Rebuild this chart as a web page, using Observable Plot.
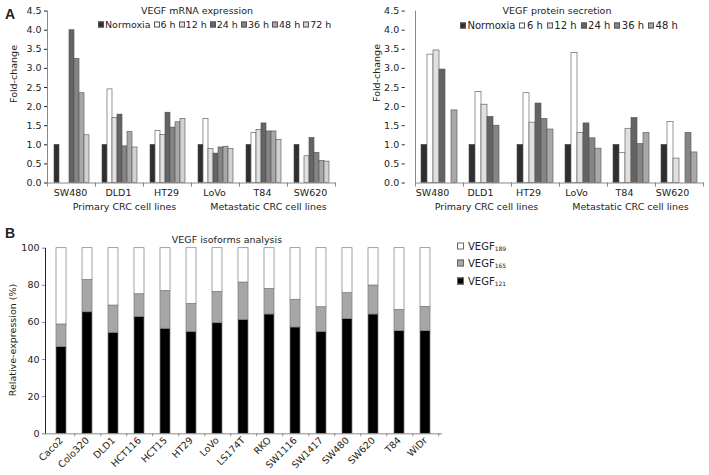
<!DOCTYPE html>
<html><head><meta charset="utf-8">
<script src="https://cdn.jsdelivr.net/npm/d3@7"></script>
<script src="https://cdn.jsdelivr.net/npm/@observablehq/plot@0.6"></script>
<style>
body{margin:0;background:#fff;}
#wrap{position:relative;width:709px;height:475px;font-family:"DejaVu Sans",sans-serif;color:#222;overflow:hidden;background:#fff}
.plot{position:absolute}
.t{position:absolute;font-size:9.5px;white-space:nowrap;transform:translate(-50%,-50%)}
.rot{transform:translate(-50%,-50%) rotate(-90deg)}
.pl{position:absolute;font-family:"Liberation Sans",sans-serif;font-weight:bold;font-size:14px;transform:translate(-50%,-50%)}
.legend{position:absolute;display:flex;align-items:center;white-space:nowrap;transform:translateY(-50%)}
.sw{display:inline-block;width:4px;height:4px;border:1px solid #555}
.legB{position:absolute;display:flex;align-items:center;font-size:10px;white-space:nowrap;transform:translateY(-50%)}
.legB sub{font-size:6px;vertical-align:-1px}
svg [aria-label$="tick"] {stroke:#8a8a8a}
</style></head><body><div id="wrap"></div>
<script>
// ---------- Panel A data ----------
const groups = ["SW480", "DLD1", "HT29", "LoVo", "T84", "SW620"];
const categoryLabels = [
  {group: "DLD1", label: "Primary CRC cell lines"},
  {group: "T84", label: "Metastatic CRC cell lines"}
];
const yTicksA = [0, 0.5, 1, 1.5, 2, 2.5, 3, 3.5, 4, 4.5];

const mrnaSeries = ["Normoxia", "6 h", "12 h", "24 h", "36 h", "48 h", "72 h"];
const mrnaNormoxia = [1, 1, 1, 1, 1, 1];
const mrna6h  = [null, 2.45, 1.36, 1.68, 1.31, null];
const mrna12h = [null, 1.70, 1.26, 0.89, 1.39, 0.70];
const mrna24h = [4.00, 1.79, 1.84, 0.77, 1.56, 1.18];
const mrna36h = [3.25, 0.96, 1.45, 0.93, 1.35, 0.79];
const mrna48h = [2.35, 1.33, 1.59, 0.95, 1.35, 0.58];
const mrna72h = [1.25, 0.93, 1.68, 0.89, 1.13, 0.56];

const protSeries = ["Normoxia", "6 h", "12 h", "24 h", "36 h", "48 h"];
const protNormoxia = [1, 1, 1, 1, 1, 1];
const prot6h  = [3.36, 2.38, 2.35, 3.40, 0.78, 1.60];
const prot12h = [3.47, 2.05, 1.58, 1.31, 1.42, 0.64];
const prot24h = [2.97, 1.73, 2.08, 1.56, 1.70, null];
const prot36h = [null, 1.50, 1.68, 1.17, 1.02, 1.31];
const prot48h = [1.90, null, 1.40, 0.90, 1.31, 0.80];

const seriesColors = ["#2f2f2f", "#ffffff", "#e0e0e0", "#646464", "#858585", "#a8a8a8", "#d2d2d2"];

// ---------- Panel B data ----------
const isoCells = ["Caco2", "Colo320", "DLD1", "HCT116", "HCT15", "HT29", "LoVo", "LS174T", "RKO", "SW1116", "SW1417", "SW480", "SW620", "T84", "WiDr"];
const isoforms = ["VEGF121", "VEGF165", "VEGF189"];
const vegf121 = [46.7, 65.5, 54.4, 63.0, 56.6, 54.9, 59.6, 61.4, 64.3, 57.3, 54.9, 61.8, 64.3, 55.3, 55.3];
const vegf165 = [12.2, 17.4, 14.7, 12.2, 20.4, 15.1, 16.9, 20.1, 13.8, 14.9, 13.3, 14.0, 15.6, 11.5, 13.1];
const vegf189 = [41.1, 17.1, 30.9, 24.8, 23.0, 30.0, 23.5, 18.5, 21.9, 27.8, 31.8, 24.2, 20.1, 33.2, 31.6];
const isoColors = ["#000000", "#a6a6a6", "#ffffff"];
const yTicksB = [0, 20, 40, 60, 80, 100];

const wrap = document.getElementById("wrap");
const baseStyle = {fontFamily: "DejaVu Sans, sans-serif", fontSize: "9.5px", color: "#222", background: "transparent", overflow: "visible"};

function place(el, left, top) {
  const d = document.createElement("div");
  d.className = "plot";
  d.style.left = left + "px";
  d.style.top = top + "px";
  d.appendChild(el);
  wrap.appendChild(d);
}
function addText(html, x, y, cls) {
  const d = document.createElement("div");
  d.className = cls || "t";
  d.style.left = x + "px";
  d.style.top = y + "px";
  d.innerHTML = html;
  wrap.appendChild(d);
}

function panelA(o) {
  const data = groups.flatMap((g, gi) => o.series.map((s, si) => ({group: g, series: s, value: o.values[si][gi]})))
    .filter(d => d.value != null);
  const H = 222, mt = 10.6, mb = 39.5;
  return Plot.plot({
    width: o.width, height: H, marginLeft: o.ml, marginRight: o.mr, marginTop: mt, marginBottom: mb,
    style: baseStyle,
    fx: {domain: groups, paddingInner: 0, paddingOuter: o.fxOuter, align: o.fxAlign, axis: null, label: null},
    x: {domain: o.series, paddingInner: 0, paddingOuter: o.xOuter, axis: null},
    y: {domain: [0, 4.5], label: null},
    color: {domain: o.series, range: o.colors},
    marks: [
      Plot.barY(data, {fx: "group", x: "series", y: "value", fill: "series", stroke: "#505050", strokeWidth: 0.6}),
      Plot.axisY({ticks: yTicksA, tickFormat: d => d.toFixed(1), tickSize: 3, tickPadding: 3, dx: o.axisDx, label: null, fill: "#222"}),
      Plot.frame({anchor: "left", stroke: "#8a8a8a", facet: "super"}),
      Plot.frame({anchor: "bottom", stroke: "#8a8a8a", facet: "super"}),
      Plot.frame({anchor: "left", stroke: "#8a8a8a", insetTop: H - mt - mb, insetBottom: -3}),
      Plot.frame({anchor: "right", stroke: "#8a8a8a", insetTop: H - mt - mb, insetBottom: -3}),
      Plot.text(groups, {fx: d => d, text: d => d, frameAnchor: "bottom", dy: 12.5, dx: o.labelDx, fill: "#222"}),
      Plot.text(categoryLabels, {fx: "group", text: "label", frameAnchor: "bottom", dy: 27, dx: o.catDx, fill: "#222"})
    ]
  });
}

const mrnaPlot = panelA({
  width: 350, ml: 46, mr: 15, fxOuter: 0, fxAlign: 0.5, xOuter: 0.7, labelDx: -1, catDx: 5, axisDx: 0,
  series: mrnaSeries, colors: seriesColors,
  values: [mrnaNormoxia, mrna6h, mrna12h, mrna24h, mrna36h, mrna48h, mrna72h]
});
place(mrnaPlot, 0, 0);

const protPlot = panelA({
  width: 354, ml: 48, mr: 6, fxOuter: 0.107, fxAlign: 1, xOuter: 0.77, labelDx: -7, catDx: -1, axisDx: -10.3,
  series: protSeries, colors: seriesColors.slice(0, 6),
  values: [protNormoxia, prot6h, prot12h, prot24h, prot36h, prot48h]
});
place(protPlot, 355, 0);

// Panel B
const isoData = isoCells.flatMap((c, i) => [
  {cell: c, isoform: isoforms[0], value: vegf121[i]},
  {cell: c, isoform: isoforms[1], value: vegf165[i]},
  {cell: c, isoform: isoforms[2], value: vegf189[i]}
]);
const bW = 460, bML = 45, bMR = 18;
const bStep = (bW - bML - bMR) / isoCells.length;
const isoPlot = Plot.plot({
  width: bW, height: 250, marginLeft: bML, marginRight: bMR, marginTop: 22.7, marginBottom: 41.7,
  style: baseStyle,
  x: {domain: isoCells, paddingInner: 0.6, paddingOuter: 0.3, tickSize: 0, tickRotate: -45, tickPadding: 5, label: null},
  y: {domain: [0, 100], ticks: yTicksB, tickSize: 3, tickPadding: 3, line: true, label: null},
  color: {domain: isoforms, range: isoColors},
  marks: [
    Plot.barY(isoData, {x: "cell", y: "value", fill: "isoform", stroke: "#7a7a7a", strokeWidth: 0.7}),
    Plot.ruleY([0], {stroke: "#8a8a8a"}),
    Plot.ruleX(isoCells, {x: d => d, y1: 0, y2: -1.6, dx: bStep / 2, stroke: "#8a8a8a"})
  ]
});
place(isoPlot, 0, 225);

// Text: panel letters, titles, axis titles
addText("A", 10, 14, "pl");
addText("B", 10, 233, "pl");
addText("VEGF mRNA expression", 197, 10);
addText("VEGF protein secretion", 557, 10);
addText("VEGF isoforms analysis", 227, 239);
addText("Fold-change", 13, 74, "t rot");
addText("Fold-change", 376, 73, "t rot");
addText("Relative-expression (%)", 12, 340, "t rot");

function legendA(series, x, y, fontSize, gapAfterSw, gapBeforeSw) {
  const d = document.createElement("div");
  d.className = "legend";
  d.style.left = x + "px";
  d.style.top = y + "px";
  d.style.fontSize = fontSize + "px";
  series.forEach((s, i) => {
    const sw = document.createElement("span");
    sw.className = "sw";
    sw.style.background = seriesColors[i];
    sw.style.marginLeft = (i === 0 ? 0 : gapBeforeSw) + "px";
    sw.style.marginRight = gapAfterSw + "px";
    d.appendChild(sw);
    const t = document.createElement("span");
    t.textContent = s;
    d.appendChild(t);
  });
  wrap.appendChild(d);
}
legendA(mrnaSeries, 98, 24, 9.5, 1, 3);
legendA(protSeries, 460, 25, 10, 1.5, 4);

const legBLabels = [["VEGF", "189"], ["VEGF", "165"], ["VEGF", "121"]];
const legBColors = [isoColors[2], isoColors[1], isoColors[0]];
const legBY = [245.7, 263.3, 280.7];
legBLabels.forEach((l, i) => {
  const d = document.createElement("div");
  d.className = "legB";
  d.style.left = "457px";
  d.style.top = legBY[i] + "px";
  d.innerHTML = `<span class="sw" style="background:${legBColors[i]};width:5px;height:5px;margin:0 4px 0 0;border-color:#666"></span><span>${l[0]}<sub>${l[1]}</sub></span>`;
  wrap.appendChild(d);
});
</script>
</body></html>
